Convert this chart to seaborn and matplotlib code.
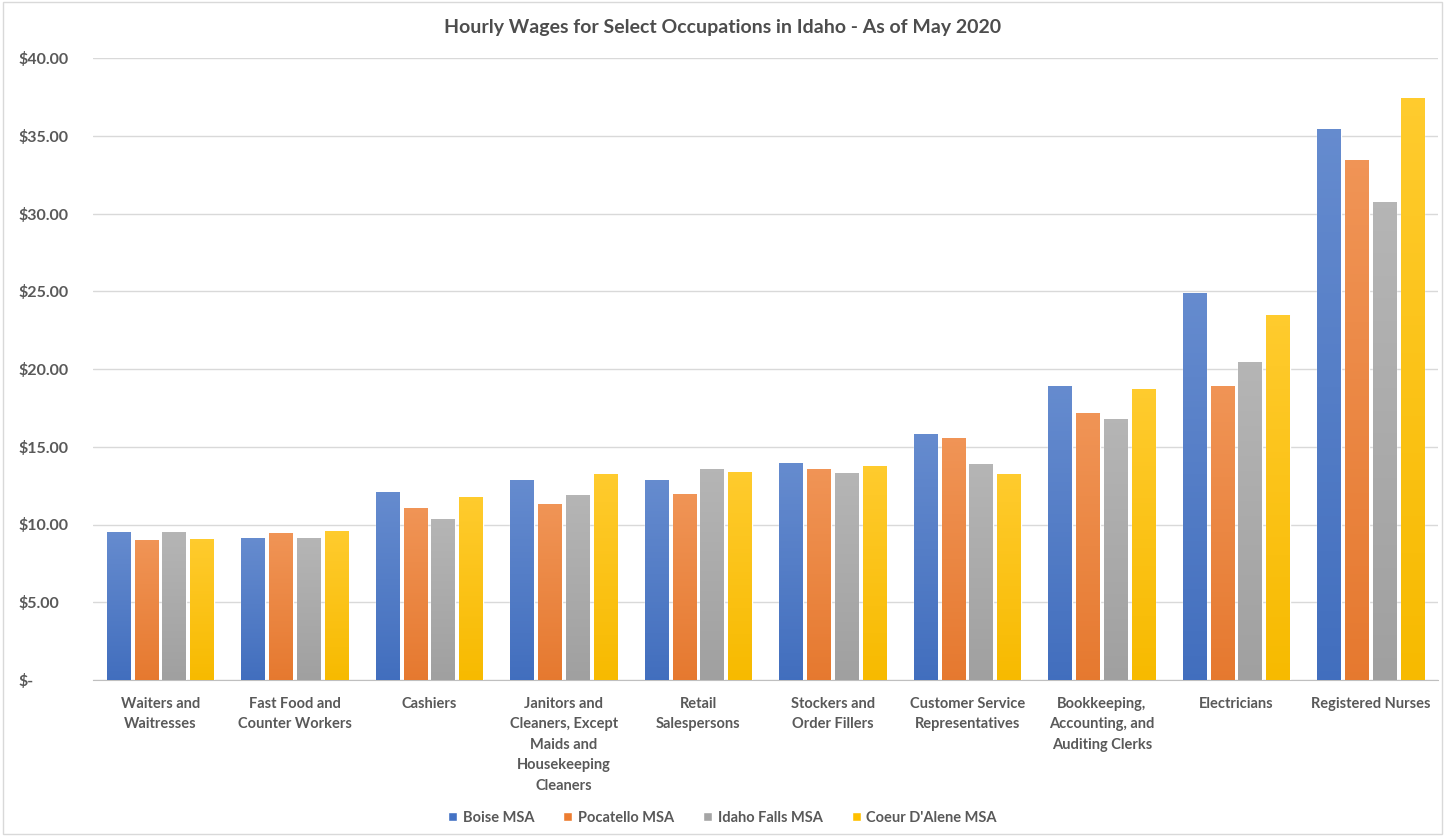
import pandas as pd
import seaborn as sns
import matplotlib.pyplot as plt
import numpy as np
from matplotlib.patches import Rectangle
from matplotlib.colors import to_rgb

# Datos (salario por hora, mayo 2020)
ocupaciones = ["Waiters and\nWaitresses", "Fast Food and\nCounter Workers", "Cashiers",
               "Janitors and\nCleaners, Except\nMaids and\nHousekeeping\nCleaners",
               "Retail\nSalespersons", "Stockers and\nOrder Fillers",
               "Customer Service\nRepresentatives",
               "Bookkeeping,\nAccounting, and\nAuditing Clerks", "Electricians",
               "Registered Nurses"]
regiones = ["Boise MSA", "Pocatello MSA", "Idaho Falls MSA", "Coeur D'Alene MSA"]
boise = [9.53, 9.13, 12.11, 12.84, 12.84, 13.95, 15.84, 18.91, 24.91, 35.41]
pocatello = [9.00, 9.47, 11.06, 11.29, 11.94, 13.59, 15.54, 17.20, 18.91, 33.44]
idaho_falls = [9.53, 9.13, 10.37, 11.90, 13.55, 13.31, 13.90, 16.78, 20.47, 30.76]
coeur = [9.07, 9.58, 11.79, 13.27, 13.38, 13.78, 13.25, 18.71, 23.47, 37.41]
ticks = [0, 5, 10, 15, 20, 25, 30, 35, 40]
etiquetas_y = ["$-", "$5.00", "$10.00", "$15.00", "$20.00", "$25.00", "$30.00", "$35.00", "$40.00"]

colores = ["#4472C4", "#ED7D31", "#A5A5A5", "#FFC000"]
gris = "#595959"

df = pd.DataFrame({
    'Ocupacion': ocupaciones * 4,
    'Region': np.repeat(regiones, len(ocupaciones)),
    'Salario': boise + pocatello + idaho_falls + coeur,
})

sns.set_style("white")
plt.rcParams['font.family'] = ['Lato', 'DejaVu Sans']

fig = plt.figure(figsize=(14.45, 8.36), dpi=100)
ax = fig.add_axes([93 / 1445, 1 - 680 / 836, 1345 / 1445, 622 / 836])

sns.barplot(data=df, x='Ocupacion', y='Salario', hue='Region', palette=colores,
            saturation=1, width=0.825, gap=0.15, ax=ax, zorder=3)

# degradado tipo Excel sobre cada barra (claro arriba, color pleno abajo)
for bar in list(ax.patches):
    x0, y0 = bar.get_xy()
    w, h = bar.get_width(), bar.get_height()
    if h <= 0:
        continue
    base = np.array(to_rgb(bar.get_facecolor()))
    claro = base + (1 - base) * 0.18
    oscuro = base * 0.97
    t = np.linspace(0, 1, 64)[:, None]
    grad = (claro[None, :] * (1 - t) + oscuro[None, :] * t)[:, None, :]
    im = ax.imshow(grad, extent=[x0, x0 + w, y0, y0 + h], aspect='auto',
                   origin='upper', zorder=4)
    im.set_clip_path(bar)

ax.set_xlim(-0.5, len(ocupaciones) - 0.5)
ax.set_ylim(0, 40)
ax.set_yticks(ticks)
ax.set_yticklabels(etiquetas_y)
ax.grid(axis='y', color='#D9D9D9', linewidth=1, zorder=0)
ax.set_xlabel('')
ax.set_ylabel('')
for s in ['top', 'right', 'left']:
    ax.spines[s].set_visible(False)
ax.spines['bottom'].set_color('#BFBFBF')
ax.tick_params(axis='x', length=0, pad=12, labelsize=10.5, labelcolor=gris)
ax.tick_params(axis='y', length=0, pad=54, labelsize=11.5, labelcolor=gris)
for lab in ax.get_yticklabels():
    lab.set_horizontalalignment('left')
    lab.set_fontweight('bold')
for lab in ax.get_xticklabels():
    lab.set_fontweight('bold')
    lab.set_linespacing(1.6)

ax.legend(loc='center', bbox_to_anchor=(0.5, 1 - 818 / 836), bbox_transform=fig.transFigure,
          ncol=4, frameon=False, handlelength=0.6, handleheight=0.6, handletextpad=0.4,
          columnspacing=2.0, prop={'weight': 'bold', 'size': 10.5}, labelcolor=gris)

fig.text(0.5, 1 - 28 / 836, "Hourly Wages for Select Occupations in Idaho - As of May 2020",
         ha='center', va='center', fontsize=14, fontweight='bold', color='#4D4D4D')
fig.patches.append(Rectangle((0.002, 0.002), 0.996, 0.996, transform=fig.transFigure,
                             fill=False, edgecolor='#D9D9D9', linewidth=1))

fig.savefig('out.png', dpi=100)
